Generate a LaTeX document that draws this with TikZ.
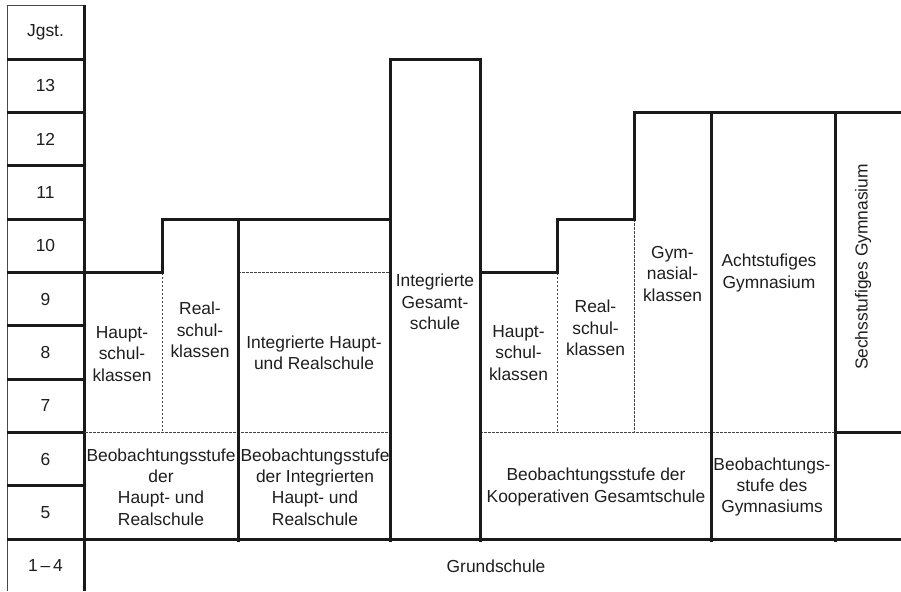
\documentclass[tikz,border=0pt]{standalone}
\usepackage{fontspec}
\setmainfont{Liberation Sans}
\definecolor{ink}{HTML}{1A1A1A}
\definecolor{txt}{HTML}{1E1E1E}
\definecolor{dash}{HTML}{444444}
\begin{document}
\begin{tikzpicture}[x=1pt,y=-1pt,
  thickline/.style={draw=ink,line width=3pt,line cap=rect},
  thinline/.style={draw=ink!80,line width=1pt},
  dashline/.style={draw=dash,line width=0.9pt,dash pattern=on 2.5pt off 1.5pt},
  lbl/.style={text=txt,font=\fontsize{17.4}{21.3}\selectfont,align=center,inner sep=0pt}]
\useasboundingbox (0,0) rectangle (901,591);
% grade column
\foreach \k/\t in {1/Jgst.,2/13,3/12,4/11,5/10,6/9,7/8,8/7,9/6,10/5}{
  \pgfmathsetmacro{\yc}{6+53.3*(\k-0.5)}
  \node[lbl] (g\k) at (45.5,\yc) {\t};
}
\node[lbl] (g11) at (45.5,566) {1\,\textendash\,4};
\draw[thinline] (7,591) -- (7,6) -- (84,6);
\foreach \k in {1,...,10}{
  \pgfmathsetmacro{\yl}{6+53.3*\k}
  \draw[thickline,line cap=butt] (7,\yl) -- (84,\yl);
}
\draw[thickline,line cap=butt] (84,4.7) -- (84,591);
% dashed separators
\draw[dashline] (162,272.5) -- (162,432.4);
\draw[dashline] (557,272.5) -- (557,432.4);
\draw[dashline] (634,219.2) -- (634,432.4);
\draw[dashline] (85,432.4) -- (390,432.4);
\draw[dashline] (480,432.4) -- (835,432.4);
\draw[dashline] (238,272.5) -- (390,272.5);
% main outline
\draw[thickline,line join=miter] (84,272.5) -- (162,272.5) -- (162,219.2) -- (390,219.2);
\draw[thickline,line join=miter,line cap=butt] (390,541.5) -- (390,59.3) -- (480,59.3) -- (480,541.5);
\draw[thickline,line join=miter] (480,272.5) -- (557,272.5) -- (557,219.2) -- (634,219.2) -- (634,112.6) -- (901,112.6);
\draw[thickline,line cap=butt] (238,219.2) -- (238,541.5);
\draw[thickline,line cap=butt] (711,112.6) -- (711,541.5);
\draw[thickline,line cap=butt] (835,112.6) -- (835,541.5);
\draw[thickline,line cap=butt] (84,539) -- (901,539);
\draw[thickline,line cap=butt] (835,432.4) -- (901,432.4);
% texts
\node[lbl] (hs1) at (122,354) {Haupt-\\schul-\\klassen};
\node[lbl] (rs1) at (200,330) {Real-\\schul-\\klassen};
\node[lbl] (ihr) at (314,353) {Integrierte Haupt-\\und Realschule};
\node[lbl] (igs) at (435,302) {Integrierte\\Gesamt-\\schule};
\node[lbl] (hs2) at (518.5,353) {Haupt-\\schul-\\klassen};
\node[lbl] (rs2) at (595.5,328) {Real-\\schul-\\klassen};
\node[lbl] (gk) at (672.5,274) {Gym-\\nasial-\\klassen};
\node[lbl] (ag) at (769,273) {Achtstufiges\\Gymnasium};
\node[lbl,rotate=90] (sg) at (863,267) {Sechsstufiges Gymnasium};
\node[lbl] (bo1) at (161,487) {Beobachtungsstufe\\der\\Haupt- und\\Realschule};
\node[lbl] (bo2) at (315,487) {Beobachtungsstufe\\der Integrierten\\Haupt- und\\Realschule};
\node[lbl] (bo3) at (596,487) {Beobachtungsstufe der\\Kooperativen Gesamtschule};
\node[lbl] (bo4) at (772,487) {Beobachtungs-\\stufe des\\Gymnasiums};
\node[lbl] (gs) at (496,566) {Grundschule};
\end{tikzpicture}
\end{document}
